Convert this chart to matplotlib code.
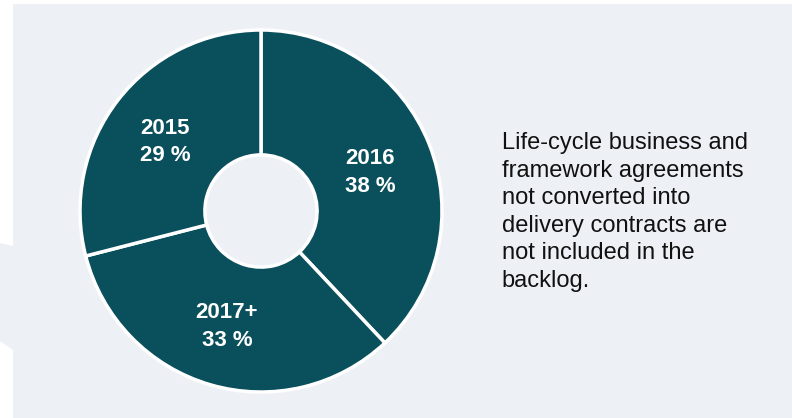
import matplotlib.pyplot as plt
from matplotlib.patches import Polygon

# backlog split by year
years = ['2016', '2017+', '2015']
shares = [38, 33, 29]
note = ('Life-cycle business and\nframework agreements\nnot converted into\n'
        'delivery contracts are\nnot included in the\nbacklog.')

teal = '#0a4f5c'
panel = '#edf0f5'

plt.rcParams['font.family'] = ['Liberation Sans', 'DejaVu Sans']

fig = plt.figure(figsize=(7.92, 4.18), dpi=100)
W, H = 792, 418

# grey panel with the small tab on the left edge
pts = [(13, 4), (792, 4), (792, 418), (13, 418), (13, 350), (0, 341),
       (0, 243), (13, 246)]
fig.patches.append(Polygon([(x / W, 1 - y / H) for x, y in pts],
                           closed=True, transform=fig.transFigure,
                           facecolor=panel, edgecolor='none', zorder=-1))

cx, cy, r = 261, 211, 181
ax = fig.add_axes([(cx - r) / W, (H - cy - r) / H, 2 * r / W, 2 * r / H])
ax.set_facecolor('none')
ax.set_zorder(1)

wedges, _ = ax.pie(shares, startangle=90, counterclock=False, radius=1,
                   colors=[teal] * len(shares),
                   wedgeprops=dict(width=0.69, edgecolor='white', linewidth=2.5))
ax.set_xlim(-1, 1)
ax.set_ylim(-1, 1)
ax.set_aspect('equal')
ax.axis('off')

# label spots in the ring (data units of the pie)
label_pos = {'2016': (0.464, 0.214, 'left'),
             '2017+': (-0.188, -0.64, 'center'),
             '2015': (-0.668, 0.381, 'left')}
for yr, s in zip(years, shares):
    x, y, ha = label_pos[yr]
    ax.text(x, y, f'{yr}\n{s} %', color='white', fontsize=16, fontweight='bold',
            ha=ha, va='center', multialignment='center', linespacing=1.42)

fig.text(501.5 / W, 1 - 132 / H, note, fontsize=17, color='#111111',
         ha='left', va='top', linespacing=1.33)

fig.savefig('out.png', dpi=100)
